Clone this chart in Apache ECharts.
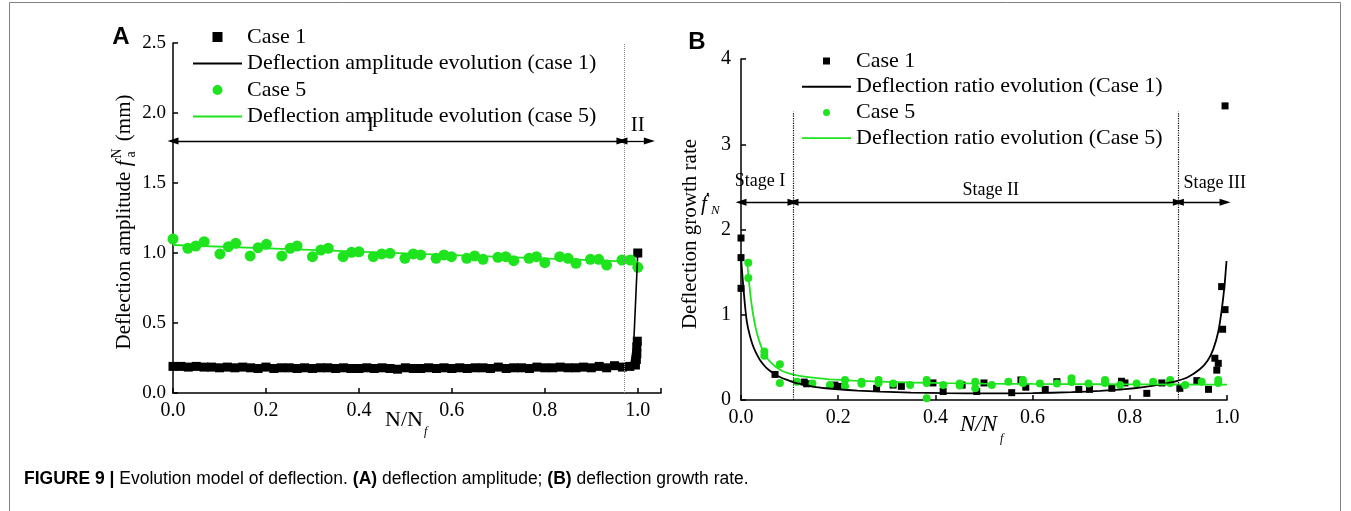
<!DOCTYPE html>
<html><head><meta charset="utf-8">
<script src="https://cdn.jsdelivr.net/npm/echarts@6/dist/echarts.min.js"></script>
<style>html,body{margin:0;padding:0;background:#fff}#c{width:1351px;height:511px}</style>
</head><body><div id="c"></div>
<script>
// ---------- Panel A data ----------
const aCase1X = [0,0.017,0.033,0.05,0.067,0.083,0.1,0.117,0.133,0.15,
  0.167,0.183,0.2,0.217,0.233,0.25,0.267,0.283,0.3,0.317,
  0.333,0.35,0.367,0.383,0.4,0.417,0.433,0.45,0.467,0.483,
  0.5,0.517,0.533,0.55,0.567,0.583,0.6,0.617,0.633,0.65,
  0.667,0.683,0.7,0.717,0.733,0.75,0.767,0.783,0.8,0.817,
  0.833,0.85,0.867,0.883,0.9,0.917,0.933,0.95,0.967,0.983,
  0.995,0.997,0.998,0.998,0.999,1.0];
const aCase1Y = [0.19,0.19,0.185,0.19,0.185,0.185,0.18,0.185,0.18,0.185,
  0.18,0.175,0.185,0.175,0.18,0.18,0.175,0.18,0.175,0.18,
  0.18,0.175,0.18,0.175,0.175,0.18,0.175,0.18,0.175,0.17,
  0.18,0.175,0.175,0.18,0.175,0.18,0.175,0.18,0.175,0.18,
  0.18,0.175,0.185,0.175,0.18,0.18,0.175,0.185,0.18,0.18,
  0.185,0.18,0.18,0.185,0.18,0.19,0.18,0.195,0.185,0.19,
  0.2,0.24,0.28,0.33,0.37,1.0];
const aFit1X = [0,0.3,0.6,0.9,0.975,0.985,0.991,1.0];
const aFit1Y = [0.19,0.18,0.178,0.185,0.19,0.2,0.33,1.0];
const aCase5X = [0,0.032,0.049,0.067,0.101,0.119,0.135,0.166,0.183,0.201,
  0.234,0.252,0.267,0.3,0.318,0.334,0.366,0.384,0.4,0.431,
  0.449,0.467,0.499,0.517,0.533,0.566,0.583,0.599,0.632,0.649,
  0.667,0.699,0.716,0.733,0.766,0.782,0.8,0.832,0.85,0.867,
  0.898,0.916,0.933,0.966,0.984,1.0];
const aCase5Y = [1.10,1.034,1.05,1.081,0.993,1.045,1.069,0.979,1.038,1.062,
  0.979,1.034,1.05,0.974,1.021,1.034,0.974,1.005,1.009,0.974,
  0.993,0.998,0.962,0.993,0.986,0.962,0.986,0.974,0.962,0.979,
  0.955,0.969,0.974,0.945,0.962,0.974,0.931,0.974,0.962,0.926,
  0.955,0.955,0.914,0.95,0.95,0.898];
const aFit5X = [0,0.25,0.5,0.75,1.0];
const aFit5Y = [1.057,1.028,0.998,0.967,0.937];
const aStageBoundary = 0.966;
const aArrowY = 1.8;
const aArrowEnd = 1.025;
const aStageLabels = [{name:'I', x:0.425, y:1.91},{name:'II', x:1.0, y:1.91}];

// ---------- Panel B data ----------
const bCase1X = [0,0,0,0.07,0.13,0.135,0.193,0.2,0.279,0.313,0.33,0.395,0.416,0.455,0.485,0.5,
  0.557,0.576,0.586,0.626,0.65,0.695,0.717,0.763,0.783,0.79,0.835,0.866,0.903,0.938,0.962,
  0.975,0.979,0.982,0.989,0.991,0.996,0.996];
const bCase1Y = [1.9,1.67,1.31,0.3,0.21,0.19,0.175,0.16,0.137,0.175,0.16,0.2,0.1,0.175,0.1,0.2,
  0.086,0.235,0.15,0.125,0.215,0.125,0.125,0.137,0.22,0.2,0.078,0.2,0.137,0.227,0.125,
  0.49,0.35,0.43,1.33,0.83,1.06,3.45];
const bFit1X = [0,0.004,0.008,0.012,0.018,0.025,0.032,0.039,0.05,0.06,0.07,0.08,0.095,0.11,0.13,0.148,0.175,0.2,
  0.24,0.286,0.35,0.423,0.5,0.6,0.68,0.739,0.79,0.828,0.87,0.896,0.92,0.944,0.96,0.972,0.982,0.989,0.995,0.999];
const bFit1Y = [1.67,1.38,1.12,0.92,0.76,0.63,0.54,0.47,0.39,0.34,0.3,0.27,0.235,0.205,0.18,0.158,0.138,0.125,
  0.11,0.098,0.087,0.08,0.077,0.08,0.092,0.108,0.128,0.152,0.19,0.222,0.27,0.36,0.46,0.6,0.8,1.05,1.35,1.63];
const bCase5X = [0.015,0.015,0.048,0.048,0.08,0.08,0.115,0.147,0.183,0.214,0.214,0.248,0.248,0.283,0.283,0.313,0.348,
  0.382,0.382,0.382,0.416,0.45,0.45,0.482,0.482,0.516,0.55,0.58,0.58,0.615,0.65,0.68,0.68,0.715,0.749,0.749,
  0.78,0.814,0.848,0.883,0.883,0.914,0.948,0.982,0.982];
const bCase5Y = [1.61,1.43,0.57,0.52,0.42,0.2,0.215,0.195,0.176,0.235,0.16,0.215,0.19,0.235,0.2,0.195,0.176,
  0.235,0.2,0.02,0.176,0.195,0.17,0.215,0.137,0.176,0.215,0.235,0.2,0.195,0.195,0.255,0.21,0.195,0.235,0.2,
  0.176,0.195,0.215,0.235,0.2,0.176,0.215,0.235,0.2];
const bFit5X = [0.012,0.016,0.02,0.025,0.03,0.036,0.042,0.048,0.055,0.065,0.075,0.085,0.1,0.115,0.135,0.16,0.183,
  0.23,0.286,0.35,0.423,0.5,0.6,0.7,0.8,0.9,1.0];
const bFit5Y = [1.65,1.42,1.2,1.0,0.85,0.72,0.62,0.55,0.48,0.42,0.375,0.34,0.31,0.29,0.27,0.255,0.243,
  0.228,0.215,0.205,0.197,0.192,0.188,0.186,0.184,0.182,0.18];
const bStageBounds = [0.107, 0.9];
const bBoundTop = 3.38;
const bArrowY = 2.32;
const bArrowEnd = 0.996;
const bStageLabels = [{name:'Stage I', x:0.039, y:2.56},{name:'Stage II', x:0.514, y:2.46},{name:'Stage III', x:0.975, y:2.54}];

// ---------- helpers ----------
const zip = (xs, ys) => xs.map((x, i) => [x, ys[i]]);
const SERIF = 'Liberation Serif';
const GREEN = '#1ee41e';
const measure = (() => { const c = document.createElement('canvas').getContext('2d');
  return (txt, font) => { c.font = font; return c.measureText(txt).width; }; })();

function axisCommon(fs, margin, fmt) {
  return {
    type: 'value',
    axisLine: {show: true, onZero: false, lineStyle: {color: '#000', width: 1.5}},
    axisTick: {show: true, inside: true, length: 5, lineStyle: {color: '#000', width: 1.5}},
    axisLabel: {fontFamily: SERIF, fontSize: fs, color: '#000', margin: margin, formatter: fmt},
    splitLine: {show: false}
  };
}
const fmtTick = step => v => (Math.abs(v / step - Math.round(v / step)) < 1e-6) ? v.toFixed(1) : '';

const arrowLine = (c) => ({silent: true, symbol: ['triangle', 'triangle'], symbolSize: [7, 11],
  lineStyle: {color: '#000', width: 1.3, type: 'solid'}, label: {show: false}, data: c, animation: false});

const txt = (text, x, y, font, align) => ({type: 'text', x: x, y: y,
  style: {text: text, font: font, fill: '#000', align: align || 'left', verticalAlign: 'middle',
          textAlign: align || 'left', textVerticalAlign: 'middle'}});

// ---------- A y label (rotated, with sup/sub) ----------
const fMain = '21px "' + SERIF + '"';
const fIt = 'italic 21px "' + SERIF + '"';
const fSmall = '14px "' + SERIF + '"';
const t1 = 'Deflection amplitude ';
const w1 = measure(t1, fMain), wf = measure('f', fIt) + 2, wsm = measure('N', fSmall) + 2;
const t2 = ' (mm)';
const w2 = measure(t2, fMain);
const L = w1 + wf + wsm + w2;
const x0 = -L / 2;
const aYLabel = {type: 'group', x: 124, y: 222, rotation: Math.PI / 2, children: [
  txt(t1, x0, 0, fMain),
  txt('f', x0 + w1, 0, fIt),
  txt('N', x0 + w1 + wf, -7, fSmall),
  txt('a', x0 + w1 + wf + 1, 7, fSmall),
  txt(t2, x0 + w1 + wf + wsm, 0, fMain)
]};

// x-axis names
const fNA = '22px "' + SERIF + '"';
const fNB = 'italic 23px "' + SERIF + '"';
const wNA = measure('N/N', fNA), wNB = measure('N/N', fNB);

const LINE_ICON = 'path://M0,0h49v1.9h-49z';
const SQ_ICON = 'path://M0,0h10v10h-10z';

const option = {
  animation: false,
  backgroundColor: '#fff',
  grid: [
    {left: 173, top: 43, width: 488, height: 350},
    {left: 741, top: 59, width: 486, height: 341}
  ],
  xAxis: [
    Object.assign(axisCommon(20, 8, fmtTick(0.2)), {gridIndex: 0, min: 0, max: 1.05, interval: 0.2}),
    Object.assign(axisCommon(20, 8, fmtTick(0.2)), {gridIndex: 1, min: 0, max: 1, interval: 0.2})
  ],
  yAxis: [
    Object.assign(axisCommon(19, 7, v => v.toFixed(1)), {gridIndex: 0, min: 0, max: 2.5, interval: 0.5}),
    Object.assign(axisCommon(20, 10, v => String(v)), {gridIndex: 1, min: 0, max: 4, interval: 1})
  ],
  legend: [
    {left: 188, top: 21, orient: 'vertical', itemWidth: 49, itemHeight: 10, itemGap: 4.5, selectedMode: false,
     textStyle: {fontFamily: SERIF, fontSize: 22, lineHeight: 22, color: '#000'},
     data: [{name: 'Case 1', icon: SQ_ICON}, {name: 'Deflection amplitude evolution (case 1)', icon: LINE_ICON},
            {name: 'Case 5', icon: 'circle'}, {name: 'Deflection amplitude evolution (case 5)', icon: LINE_ICON}]},
    {left: 797, top: 45, orient: 'vertical', itemWidth: 49, itemHeight: 7, itemGap: 3.7, selectedMode: false,
     textStyle: {fontFamily: SERIF, fontSize: 22, lineHeight: 22, color: '#000'},
     data: [{name: 'Case 1', icon: SQ_ICON}, {name: 'Deflection ratio evolution (Case 1)', icon: LINE_ICON},
            {name: 'Case 5', icon: 'circle'}, {name: 'Deflection ratio evolution (Case 5)', icon: LINE_ICON}]}
  ],
  series: [
    {type: 'scatter', name: 'Case 1', xAxisIndex: 0, yAxisIndex: 0, symbol: 'rect', symbolSize: 9,
     itemStyle: {color: '#000', opacity: 1}, data: zip(aCase1X, aCase1Y)},
    {type: 'line', name: 'Deflection amplitude evolution (case 1)', xAxisIndex: 0, yAxisIndex: 0, symbol: 'none',
     lineStyle: {color: '#000', width: 1.6}, itemStyle: {color: '#000'}, data: zip(aFit1X, aFit1Y),
     markLine: {silent: true, symbol: 'none', label: {show: false}, animation: false,
       lineStyle: {color: '#8a8a8a', width: 1, type: 'dotted'}, data: [{xAxis: aStageBoundary}]}},
    {type: 'scatter', name: 'Case 5', xAxisIndex: 0, yAxisIndex: 0, symbol: 'circle', symbolSize: 11,
     itemStyle: {color: GREEN, opacity: 1}, data: zip(aCase5X, aCase5Y)},
    {type: 'line', name: 'Deflection amplitude evolution (case 5)', xAxisIndex: 0, yAxisIndex: 0, symbol: 'none',
     lineStyle: {color: GREEN, width: 1.8}, itemStyle: {color: GREEN}, data: zip(aFit5X, aFit5Y),
     markLine: arrowLine([
       [{coord: [0, aArrowY]}, {coord: [aStageBoundary, aArrowY]}],
       [{coord: [aStageBoundary, aArrowY]}, {coord: [aArrowEnd, aArrowY]}]
     ]),
     markPoint: {symbol: 'circle', symbolSize: 1, itemStyle: {color: 'rgba(0,0,0,0)'}, animation: false,
       label: {show: true, position: 'inside', formatter: '{b}', fontFamily: SERIF, fontSize: 21, color: '#000'},
       data: aStageLabels.map(s => ({name: s.name, coord: [s.x, s.y]}))}},

    {type: 'scatter', name: 'Case 1', xAxisIndex: 1, yAxisIndex: 1, symbol: 'rect', symbolSize: 7,
     itemStyle: {color: '#000', opacity: 1}, data: zip(bCase1X, bCase1Y)},
    {type: 'line', name: 'Deflection ratio evolution (Case 1)', xAxisIndex: 1, yAxisIndex: 1, symbol: 'none',
     smooth: 0.25,
     lineStyle: {color: '#000', width: 1.8}, itemStyle: {color: '#000'}, data: zip(bFit1X, bFit1Y),
     markLine: {silent: true, symbol: 'none', label: {show: false}, animation: false,
       lineStyle: {color: '#000', width: 1.2, type: 'dotted'},
       data: bStageBounds.map(x => [{coord: [x, 0]}, {coord: [x, bBoundTop]}])}},
    {type: 'scatter', name: 'Case 5', xAxisIndex: 1, yAxisIndex: 1, symbol: 'circle', symbolSize: 8,
     itemStyle: {color: GREEN, opacity: 1}, data: zip(bCase5X, bCase5Y)},
    {type: 'line', name: 'Deflection ratio evolution (Case 5)', xAxisIndex: 1, yAxisIndex: 1, symbol: 'none',
     smooth: 0.25,
     lineStyle: {color: GREEN, width: 1.8}, itemStyle: {color: GREEN}, data: zip(bFit5X, bFit5Y),
     markLine: arrowLine([
       [{coord: [0, bArrowY]}, {coord: [bStageBounds[0], bArrowY]}],
       [{coord: [bStageBounds[0], bArrowY]}, {coord: [bStageBounds[1], bArrowY]}],
       [{coord: [bStageBounds[1], bArrowY]}, {coord: [bArrowEnd, bArrowY]}]
     ]),
     markPoint: {symbol: 'circle', symbolSize: 1, itemStyle: {color: 'rgba(0,0,0,0)'}, animation: false,
       label: {show: true, position: 'inside', formatter: '{b}', fontFamily: SERIF, fontSize: 18, color: '#000'},
       data: bStageLabels.map(s => ({name: s.name, coord: [s.x, s.y]}))}}
  ],
  graphic: [
    {type: 'rect', shape: {x: 9.5, y: 2.5, width: 1331, height: 530}, style: {fill: 'none', stroke: '#808080', lineWidth: 1}, silent: true},
    txt('A', 121, 37, 'bold 24px "Liberation Sans"', 'center'),
    txt('B', 697, 42, 'bold 24px "Liberation Sans"', 'center'),
    aYLabel,
    {type: 'group', x: 690, y: 234, rotation: Math.PI / 2, children: [txt('Deflection growth rate', 0, 0, fMain, 'center')]},
    txt('\u1E1F', 701, 204, fIt),
    txt('N', 711, 211, 'italic 13px "' + SERIF + '"'),
    txt('N/N', 385, 420, fNA),
    txt('f', 385 + wNA + 1, 432, 'italic 12px "' + SERIF + '"'),
    txt('N/N', 960, 425, fNB),
    txt('f', 960 + wNB + 3, 439, 'italic 12px "' + SERIF + '"'),
    {type: 'text', x: 24, y: 479, style: {
      text: '{b|FIGURE 9 | }{n|Evolution model of deflection. }{b|(A)}{n| deflection amplitude; }{b|(B)}{n| deflection growth rate.}',
      verticalAlign: 'middle', textVerticalAlign: 'middle', fill: '#000',
      rich: {b: {fontFamily: 'Liberation Sans', fontSize: 17.5, fontWeight: 'bold', fill: '#000', color: '#000'},
             n: {fontFamily: 'Liberation Sans', fontSize: 17.5, fill: '#000', color: '#000'}}}}
  ]
};
const chart = echarts.init(document.getElementById('c'), null, {renderer: 'canvas'});
chart.setOption(option);
</script></body></html>
